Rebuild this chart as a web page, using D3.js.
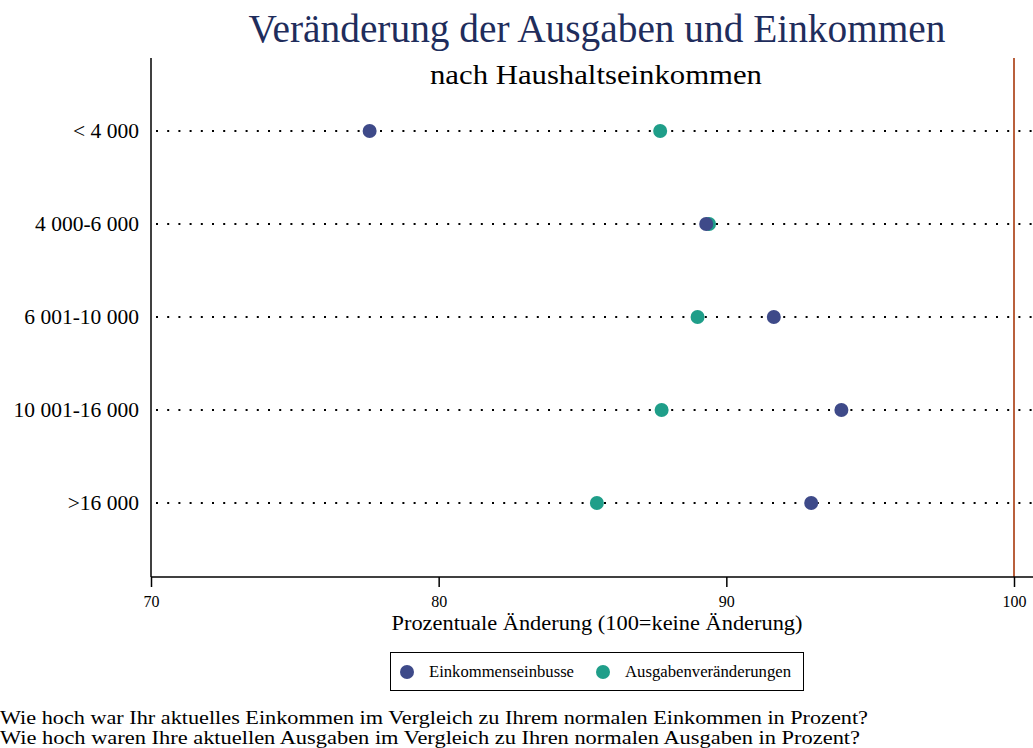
<!DOCTYPE html>
<html>
<head>
<meta charset="utf-8">
<script src="https://cdn.jsdelivr.net/npm/d3@7"></script>
<style>
  body { margin: 0; background: #fff; }
  svg { display: block; font-family: "Liberation Serif", "Times New Roman", serif; }
</style>
</head>
<body>
<svg id="chart" width="1033" height="748"></svg>
<script>
const categories = ['< 4 000', '4 000-6 000', '6 001-10 000', '10 001-16 000', '>16 000'];
const einkommen = [77.6, 89.3, 91.65, 94.0, 92.95];
const ausgaben = [87.7, 89.4, 89.0, 87.75, 85.5];
const xTicks = [70, 80, 90, 100];
const seriesNames = ['Einkommenseinbusse', 'Ausgabenveränderungen'];
const seriesColors = ['#3e4a89', '#1f9e89'];
const notes = [
    'Wie hoch war Ihr aktuelles Einkommen im Vergleich zu Ihrem normalen Einkommen in Prozent?',
    'Wie hoch waren Ihre aktuellen Ausgaben im Vergleich zu Ihren normalen Ausgaben in Prozent?'
];

const svg = d3.select('#chart');
const W = 1033;
const plotTop = 58, plotBottom = 577;

const x = d3.scaleLinear().domain([70, 100]).range([151, 1014]);
const y = d3.scalePoint().domain(categories).range([131, 503]);

// titles
svg.append('text')
    .attr('x', 597).attr('y', 42)
    .attr('text-anchor', 'middle')
    .attr('font-size', 40)
    .attr('fill', '#1f2d5c')
    .attr('textLength', 697).attr('lengthAdjust', 'spacingAndGlyphs')
    .text('Veränderung der Ausgaben und Einkommen');
svg.append('text')
    .attr('x', 596).attr('y', 84)
    .attr('text-anchor', 'middle')
    .attr('font-size', 27)
    .attr('fill', '#000')
    .attr('textLength', 332).attr('lengthAdjust', 'spacingAndGlyphs')
    .text('nach Haushaltseinkommen');

// dotted guide lines
svg.append('g').selectAll('line')
    .data(categories)
    .join('line')
    .attr('x1', x(70) + 5).attr('x2', W)
    .attr('y1', d => y(d)).attr('y2', d => y(d))
    .attr('stroke', '#000')
    .attr('stroke-width', 2)
    .attr('stroke-dasharray', '2 9.2');

// reference line at 100
svg.append('line')
    .attr('x1', x(100)).attr('x2', x(100))
    .attr('y1', plotTop).attr('y2', plotBottom)
    .attr('stroke', '#b9603c')
    .attr('stroke-width', 2);

// left axis
const yAxis = d3.axisLeft(y).tickSize(0).tickPadding(12);
svg.append('g')
    .attr('transform', `translate(${x(70)},0)`)
    .call(yAxis)
    .call(g => g.select('.domain').remove())
    .call(g => g.selectAll('text')
        .attr('font-family', '"Liberation Serif", serif')
        .attr('font-size', 21.5)
        .attr('fill', '#000'));
svg.append('line')
    .attr('x1', x(70)).attr('x2', x(70))
    .attr('y1', plotTop).attr('y2', plotBottom)
    .attr('stroke', '#000').attr('stroke-width', 1.5);

// bottom axis
const xAxis = d3.axisBottom(x).tickValues(xTicks).tickSize(10).tickPadding(9);
svg.append('g')
    .attr('transform', `translate(0,${plotBottom})`)
    .call(xAxis)
    .call(g => g.select('.domain').remove())
    .call(g => g.selectAll('.tick line').attr('stroke', '#000').attr('stroke-width', 1.5))
    .call(g => g.selectAll('text')
        .attr('font-family', '"Liberation Serif", serif')
        .attr('font-size', 16)
        .attr('fill', '#000'));
svg.append('line')
    .attr('x1', x(70)).attr('x2', W)
    .attr('y1', plotBottom).attr('y2', plotBottom)
    .attr('stroke', '#000').attr('stroke-width', 1.5);

svg.append('text')
    .attr('x', 597).attr('y', 630)
    .attr('text-anchor', 'middle')
    .attr('font-size', 20)
    .attr('textLength', 411).attr('lengthAdjust', 'spacingAndGlyphs')
    .text('Prozentuale Änderung (100=keine Änderung)');

// markers (green first so blue sits on top)
const series = [ausgaben, einkommen];
const colors = [seriesColors[1], seriesColors[0]];
series.forEach((vals, s) => {
    svg.append('g').selectAll('circle')
        .data(vals)
        .join('circle')
        .attr('cx', d => x(d))
        .attr('cy', (d, i) => y(categories[i]))
        .attr('r', 7)
        .attr('fill', colors[s]);
});

// legend
const legend = svg.append('g');
legend.append('rect')
    .attr('x', 390.5).attr('y', 652.5)
    .attr('width', 413).attr('height', 38)
    .attr('fill', '#fff').attr('stroke', '#000').attr('stroke-width', 1);
const legendX = [407, 603];
const legendW = [145, 166];
seriesNames.forEach((name, i) => {
    legend.append('circle')
        .attr('cx', legendX[i]).attr('cy', 672)
        .attr('r', 7).attr('fill', seriesColors[i]);
    legend.append('text')
        .attr('x', legendX[i] + 22).attr('y', 677)
        .attr('font-size', 16)
        .attr('textLength', legendW[i]).attr('lengthAdjust', 'spacingAndGlyphs')
        .text(name);
});

// notes
svg.append('g').selectAll('text')
    .data(notes)
    .join('text')
    .attr('x', 0)
    .attr('y', (d, i) => 724 + i * 20)
    .attr('font-size', 19)
    .attr('textLength', (d, i) => i === 0 ? 868 : 860)
    .attr('lengthAdjust', 'spacingAndGlyphs')
    .text(d => d);
</script>
</body>
</html>
